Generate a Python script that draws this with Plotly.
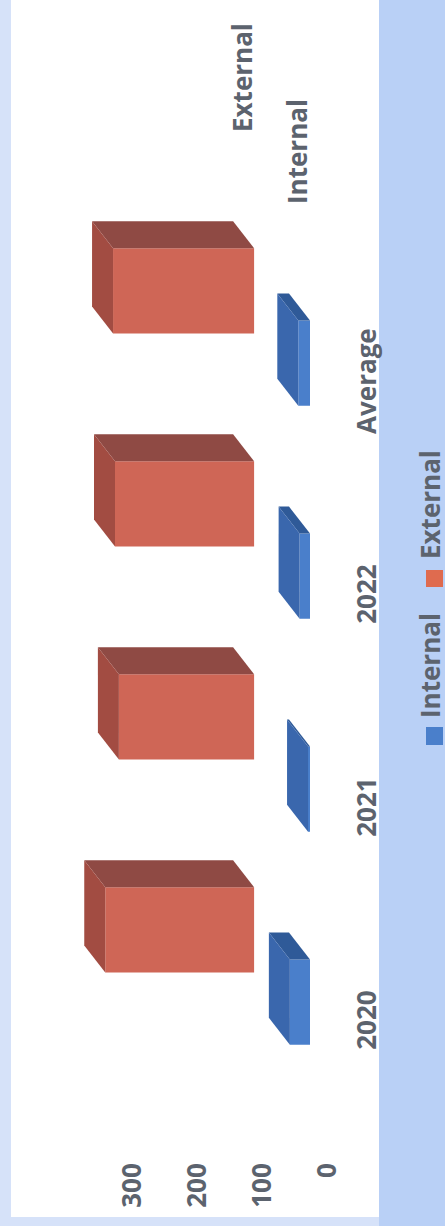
import plotly.graph_objects as go

categories = ["2020", "2021", "2022", "Average"]
positions = [0, 1, 2, 3]
internal = [31, 3, 16, 18]
external_top = [315, 294, 300, 303]
external_base = [86, 86, 86, 86]
value_ticks = [0, 100, 200, 300]

W, H = 445, 1226
PX_PER_VALUE = 0.65
ZERO_PX = 310
PX_PER_CAT = 213
CAT0_PX = 966
BAR_W = 0.40
OFFSET = 0.17
DV = 21 / PX_PER_VALUE
DY = 27 / PX_PER_CAT
FONT = "Open Sans"
GREY = "#5c636e"

COLORS = {
    "Internal": dict(front="#4a7fcb", side="#2f5a98", end="#3a67ad"),
    "External": dict(front="#cf6656", side="#8f4a44", end="#a24c42"),
}

fig = go.Figure()


def poly(xs, ys, color):
    fig.add_trace(go.Scatter(x=xs + xs[:1], y=ys + ys[:1], mode="lines", fill="toself",
                             fillcolor=color, line=dict(width=0, color=color),
                             hoverinfo="skip", showlegend=False))


def bars(name, pos, shift, tops, bases):
    c = COLORS[name]
    for p, t, b in zip(pos, tops, bases):
        y0 = p + shift - BAR_W / 2
        y1 = p + shift + BAR_W / 2
        poly([b, t, t + DV, b + DV], [y1, y1, y1 + DY, y1 + DY], c["side"])
        poly([t, t, t + DV, t + DV], [y0, y1, y1 + DY, y0 + DY], c["end"])
    fig.add_trace(go.Bar(name=name, orientation="h", y=[p + shift for p in pos],
                         x=[t - b for t, b in zip(tops, bases)], base=bases, width=BAR_W,
                         marker=dict(color=c["front"], line=dict(width=0)),
                         showlegend=False))


bars("Internal", positions, -OFFSET, internal, [0, 0, 0, 0])
bars("External", positions, OFFSET, external_top, external_base)

tick_shift_v = -27
tick_shift_c = -58 / PX_PER_CAT


def key(y0, y1, color):
    return dict(type="rect", xref="paper", yref="paper", layer="above",
                x0=426 / W, x1=443 / W, y0=(H - y1) / H, y1=(H - y0) / H,
                fillcolor=color, line=dict(width=0))


fig.update_layout(
    width=W, height=H, margin=dict(l=0, r=0, t=0, b=0), autosize=False,
    paper_bgcolor="#b9d0f6", plot_bgcolor="rgba(0,0,0,0)",
    barmode="overlay", showlegend=False,
    font=dict(family=FONT, size=26, color=GREY, weight=700),
    xaxis=dict(domain=[0, 1], range=[ZERO_PX / PX_PER_VALUE, (ZERO_PX - W) / PX_PER_VALUE],
               showgrid=False, zeroline=False, showline=False, ticks="",
               tickvals=[t + tick_shift_v for t in value_ticks], ticktext=[str(t) for t in value_ticks],
               tickangle=-90, anchor="free", position=(H - 1157) / H, side="bottom"),
    yaxis=dict(domain=[0, 1], range=[(CAT0_PX - H) / PX_PER_CAT, CAT0_PX / PX_PER_CAT],
               showgrid=False, zeroline=False, showline=False, ticks="",
               tickvals=[p + tick_shift_c for p in positions], ticktext=categories,
               tickangle=-90, anchor="free", position=349 / W, side="right"),
    shapes=[
        dict(type="rect", xref="paper", yref="paper", layer="below",
             x0=0, x1=379 / W, y0=0, y1=1, fillcolor="#d6e2f9", line=dict(width=0)),
        dict(type="rect", xref="paper", yref="paper", layer="below",
             x0=11 / W, x1=379 / W, y0=(H - 1217) / H, y1=1,
             fillcolor="#ffffff", line=dict(width=0)),
        key(727, 745, "#4a7fcb"),
        key(570, 587, "#df6b4f"),
    ],
    annotations=[
        dict(text="External", xref="paper", yref="paper", x=242 / W, y=(H - 77) / H,
             textangle=-90, showarrow=False, xanchor="center", yanchor="middle"),
        dict(text="Internal", xref="paper", yref="paper", x=297 / W, y=(H - 152) / H,
             textangle=-90, showarrow=False, xanchor="center", yanchor="middle"),
        dict(text="Internal", xref="paper", yref="paper", x=430 / W, y=(H - 666) / H,
             textangle=-90, showarrow=False, xanchor="center", yanchor="middle"),
        dict(text="External", xref="paper", yref="paper", x=430 / W, y=(H - 505) / H,
             textangle=-90, showarrow=False, xanchor="center", yanchor="middle"),
    ],
)

fig.write_html("out.html", config={"displayModeBar": False},
               post_script="document.body.style.margin='0';document.documentElement.style.overflow='hidden';")
